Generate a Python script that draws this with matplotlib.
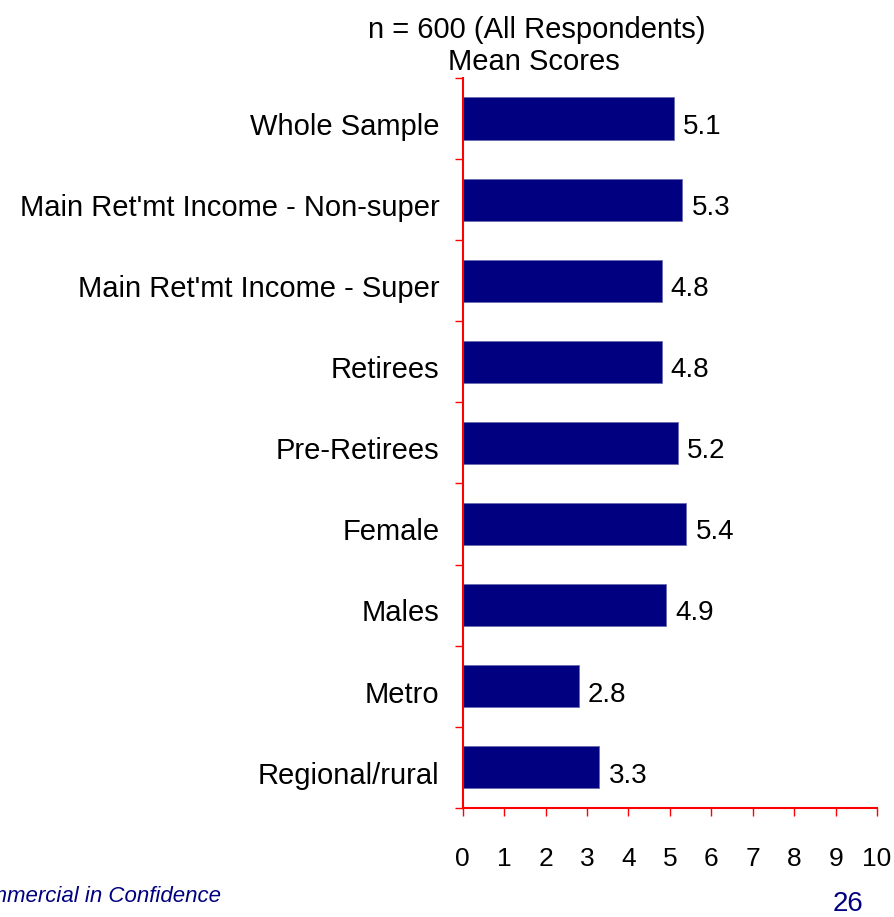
import numpy as np
import matplotlib
matplotlib.use('Agg')
import matplotlib.pyplot as plt
from matplotlib.transforms import ScaledTranslation

# %% data
groups = ['Whole Sample', "Main Ret'mt Income - Non-super", "Main Ret'mt Income - Super",
          'Retirees', 'Pre-Retirees', 'Female', 'Males', 'Metro', 'Regional/rural']
scores = [5.1, 5.3, 4.8, 4.8, 5.2, 5.4, 4.9, 2.8, 3.3]
x_ticks = list(range(0, 11))

plt.rcParams['font.family'] = ['Liberation Sans', 'DejaVu Sans']

# %% plot
fig = plt.figure(figsize=(8.95, 9.17), dpi=100)
ax = fig.add_axes([0.517, 0.119, 0.463, 0.796])

pos = np.arange(len(groups))
ax.barh(pos, scores, height=0.52, color='#000080', edgecolor='#6a6ab0', linewidth=0.6)

# text sits slightly below the bar centre
shift = ScaledTranslation(0, -6 / 72, fig.dpi_scale_trans)
for p, v in zip(pos, scores):
    ax.text(v + 0.22, p, f'{v:.1f}', va='center', ha='left', fontsize=20,
            transform=ax.transData + shift)

# category names drawn as text so they can take the same offset
name_shift = ScaledTranslation(-23 / 100, -6 / 72, fig.dpi_scale_trans)
for p, g in zip(pos, groups):
    ax.text(0, p, g, va='center', ha='right', fontsize=21,
            transform=ax.get_yaxis_transform() + name_shift)

ax.set_ylim(len(groups) - 0.5, -0.5)
ax.set_xlim(0, 10)

# tick marks between categories only
ax.set_yticks([])
ax.set_yticks(np.arange(-0.5, len(groups)), minor=True)
ax.tick_params(axis='y', which='minor', length=6, width=1, color='red', direction='out')

ax.set_xticks(x_ticks)
ax.set_xticklabels([str(t) for t in x_ticks], fontsize=19)
ax.tick_params(axis='x', length=5.5, width=1, color='red', direction='out', pad=23)

for s in ['top', 'right']:
    ax.spines[s].set_visible(False)
for s in ['left', 'bottom']:
    ax.spines[s].set_color('red')
    ax.spines[s].set_linewidth(1.5)

fig.text(537 / 895, 1 - 30 / 917, 'n = 600 (All Respondents)', ha='center', va='center', fontsize=21)
fig.text(534 / 895, 1 - 62 / 917, 'Mean Scores', ha='center', va='center', fontsize=21)

fig.text(221 / 895, 1 - 896 / 917, 'Commercial in Confidence', ha='right', va='center',
         fontsize=16, style='italic', color='#000080')
fig.text(848 / 895, 1 - 904 / 917, '26', ha='center', va='center', fontsize=20, color='#000080')

plt.savefig('out.png', dpi=100)
